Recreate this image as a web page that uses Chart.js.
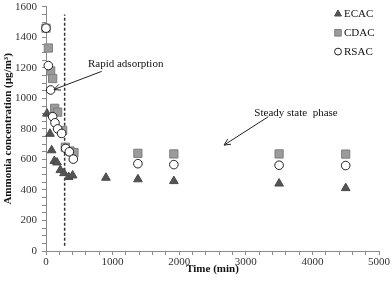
<!DOCTYPE html>
<html><head><meta charset="utf-8">
<script src="https://cdn.jsdelivr.net/npm/chart.js@4/dist/chart.umd.min.js"></script>
<style>html,body{margin:0;padding:0;background:#fff}#wrap{width:392px;height:284px}</style>
</head><body><div id="wrap"><canvas id="c" width="392" height="284"></canvas></div>
<script>
const seriesNames = ['ECAC', 'CDAC', 'RSAC'];
const ecacTime = [15, 60, 85, 125, 165, 215, 270, 340, 400, 900, 1380, 1920, 3500, 4500];
const ecacConc = [900, 768, 660, 590, 580, 530, 510, 485, 495, 480, 470, 458, 442, 412];
const cdacTime = [0, 35, 70, 100, 130, 175, 250, 290, 360, 420, 1380, 1920, 3500, 4500];
const cdacConc = [1460, 1330, 1180, 1130, 935, 910, 790, 680, 655, 645, 640, 636, 636, 635];
const rsacTime = [0, 35, 70, 100, 135, 175, 235, 295, 350, 410, 1380, 1920, 3500, 4500];
const rsacConc = [1460, 1215, 1055, 880, 840, 800, 770, 672, 650, 602, 572, 566, 562, 560];
const dividerTime = [280, 280];
const dividerConc = [35, 1550];
const xTickMajor = 1000, xTickMinor = 200, xMax = 5000;
const yTickMajor = 200, yTickMinor = 50, yMax = 1600;
const annotations = [
  {text: 'Rapid adsorption', textAt: [630, 1223], from: [836, 1177], to: [120, 1058]},
  {text: 'Steady state  phase', textAt: [3128, 902], from: [3338, 880], to: [2673, 694]}
];

const pts = (xs, ys) => xs.map((x, i) => ({x, y: ys[i]}));
const serif = "'Liberation Serif', 'Times New Roman', serif";

const styles = [
  {pointStyle: 'triangle', radius: 5, bg: '#545454', border: '#4a4a4a'},
  {pointStyle: 'rect', radius: 5.8, bg: '#9b9b9b', border: '#7d7d7d'},
  {pointStyle: 'circle', radius: 4.3, bg: '#ffffff', border: '#222222'}
];
const seriesData = [pts(ecacTime, ecacConc), pts(cdacTime, cdacConc), pts(rsacTime, rsacConc)];

const datasets = seriesNames.map((n, i) => ({
  label: n, data: seriesData[i], showLine: false, clip: false,
  pointStyle: styles[i].pointStyle, pointRadius: styles[i].radius, pointHoverRadius: styles[i].radius,
  backgroundColor: styles[i].bg, borderColor: styles[i].border, borderWidth: 1,
  order: [3, 2, 1][i]
}));
datasets.push({
  label: 'divider', data: pts(dividerTime, dividerConc), showLine: true, pointRadius: 0,
  borderColor: '#333', borderWidth: 1.5, borderDash: [3, 2], order: 4
});

const legendPlugin = {
  id: 'customLegend',
  afterDraw(chart) {
    const ctx = chart.ctx;
    ctx.save();
    ctx.font = '11px ' + serif;
    ctx.textBaseline = 'middle';
    ctx.textAlign = 'left';
    const x0 = 338, y0 = 14, dy = 18.8;
    seriesNames.forEach((n, i) => {
      const s = styles[i];
      ctx.fillStyle = s.bg; ctx.strokeStyle = s.border; ctx.lineWidth = 1;
      Chart.helpers.drawPoint(ctx, {pointStyle: s.pointStyle, radius: s.radius * 0.8, rotation: 0, borderWidth: 1}, x0, y0 + i * dy);
      ctx.fillStyle = '#111';
      ctx.fillText(n, x0 + 6, y0 + i * dy + 0.5);
    });
    // annotations
    const xs = chart.scales.x, ys = chart.scales.y;
    annotations.forEach(a => {
      ctx.fillStyle = '#111';
      ctx.fillText(a.text, xs.getPixelForValue(a.textAt[0]), ys.getPixelForValue(a.textAt[1]));
      const x1 = xs.getPixelForValue(a.from[0]), y1 = ys.getPixelForValue(a.from[1]);
      const x2 = xs.getPixelForValue(a.to[0]), y2 = ys.getPixelForValue(a.to[1]);
      ctx.strokeStyle = '#222'; ctx.lineWidth = 1;
      ctx.beginPath(); ctx.moveTo(x1, y1); ctx.lineTo(x2, y2); ctx.stroke();
      const ang = Math.atan2(y1 - y2, x1 - x2), L = 7, w = 0.45;
      ctx.beginPath();
      ctx.moveTo(x2 + L * Math.cos(ang - w), y2 + L * Math.sin(ang - w));
      ctx.lineTo(x2, y2);
      ctx.lineTo(x2 + L * Math.cos(ang + w), y2 + L * Math.sin(ang + w));
      ctx.stroke();
    });
    ctx.restore();
  }
};

new Chart(document.getElementById('c'), {
  type: 'scatter',
  data: {datasets},
  options: {
    responsive: false, animation: false, devicePixelRatio: 1,
    layout: {padding: {top: 5, right: 13, left: 0, bottom: 0}},
    plugins: {legend: {display: false}, tooltip: {enabled: false}},
    scales: {
      x: {
        type: 'linear', min: 0, max: xMax,
        border: {color: '#8a8a8a', width: 1},
        grid: {drawOnChartArea: false, drawTicks: true, tickLength: 4, color: '#8a8a8a'},
        ticks: {stepSize: xTickMinor, autoSkip: false, maxRotation: 0, padding: 1,
          callback: v => (v % xTickMajor === 0 ? v : ''), color: '#333', font: {family: serif, size: 11}},
        title: {display: true, text: 'Time (min)', color: '#111', font: {family: serif, size: 11, weight: 'bold'}, padding: {top: 0, bottom: 8}},
        afterFit: s => { s.height = 33; s.paddingLeft = 0; s.paddingRight = 0; }
      },
      y: {
        type: 'linear', min: 0, max: yMax,
        border: {color: '#8a8a8a', width: 1},
        grid: {drawOnChartArea: false, drawTicks: true, tickLength: 4, color: '#8a8a8a'},
        ticks: {stepSize: yTickMinor, autoSkip: false, padding: 5,
          callback: v => (v % yTickMajor === 0 ? v : ''), color: '#333', font: {family: serif, size: 11}},
        title: {display: true, text: 'Ammonia concentration (µg/m³)', color: '#111', font: {family: serif, size: 11, weight: 'bold'}, padding: {top: 2, bottom: 0}},
        afterFit: s => { s.width = 46; s.paddingTop = 0; s.paddingBottom = 0; }
      }
    }
  },
  plugins: [legendPlugin]
});
</script></body></html>
